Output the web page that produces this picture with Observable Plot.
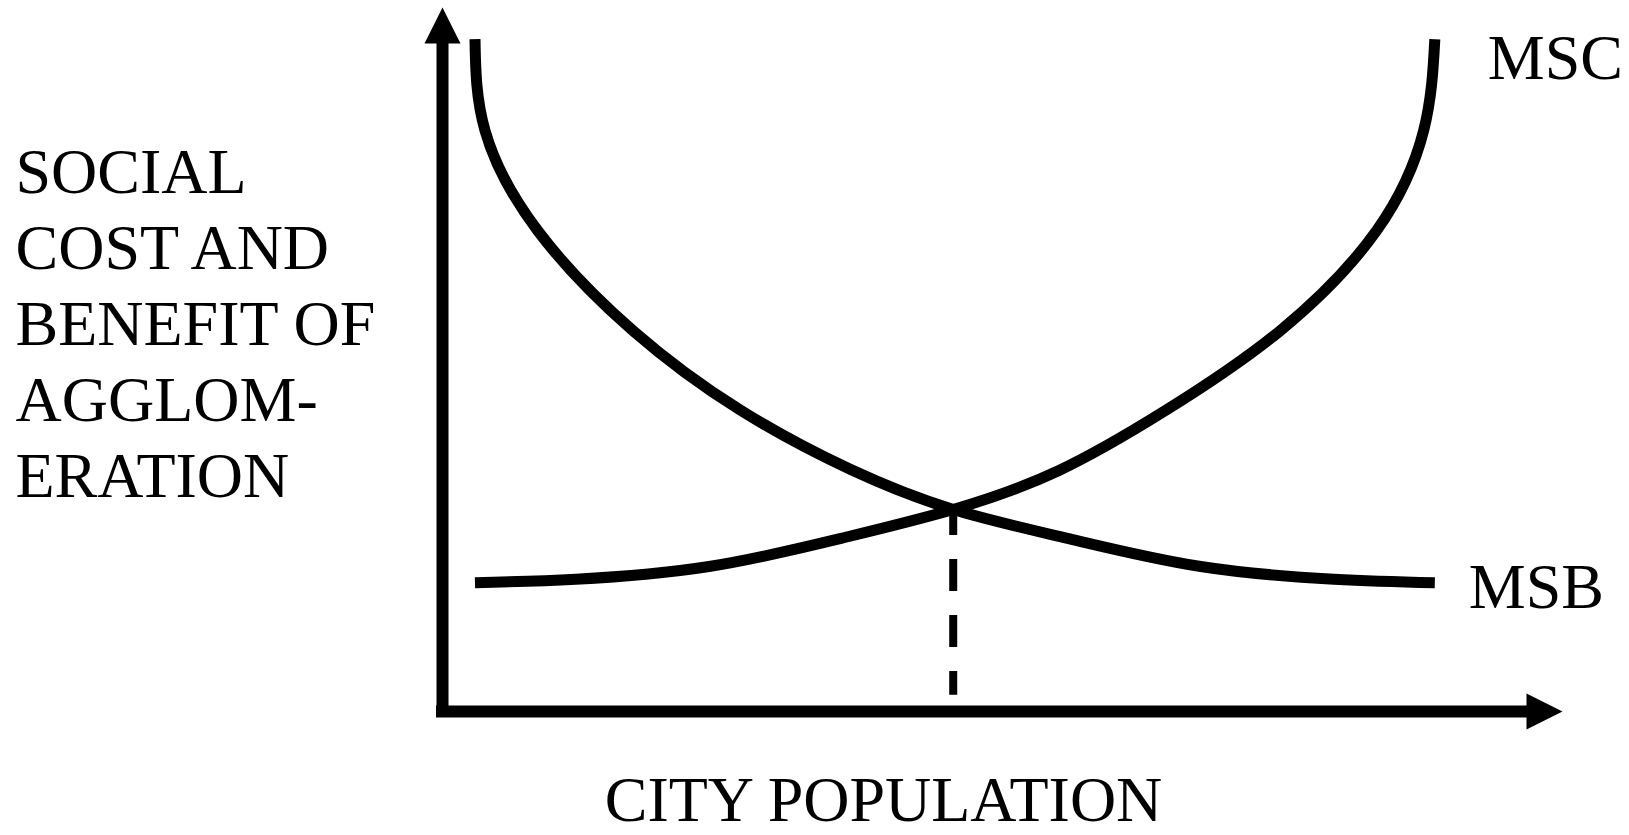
<!DOCTYPE html>
<html>
<head>
<meta charset="utf-8">
<script src="https://cdn.jsdelivr.net/npm/d3@7"></script>
<script src="https://cdn.jsdelivr.net/npm/@observablehq/plot@0.6"></script>
<style>
  html, body { margin: 0; padding: 0; background: #fff; }
  #chart svg { display: block; }
</style>
</head>
<body>
<div id="chart"></div>
<script>
// ---- data (arbitrary units: city population 0–100, social cost/benefit 0–100) ----
const msbX = [2.9, 3.8, 8.5, 17.0, 26.6, 36.4, 45.6, 55.8, 67.7, 79.6, 88.6];
const msbY = [95.5, 82.5, 68.3, 54.1, 42.8, 34.4, 28.7, 24.6, 20.6, 18.8, 18.3];
const mscX = [2.9, 11.9, 23.8, 35.6, 45.6, 55.0, 64.6, 74.8, 83.4, 87.6, 88.6];
const mscY = [18.3, 18.8, 20.6, 24.6, 28.7, 34.2, 42.8, 54.1, 68.3, 82.5, 95.5];
const eqX = 45.6;   // equilibrium city population
const eqY = 28.7;   // MSB = MSC
const curveNames = ["MSB", "MSC"];
const xTitle = "CITY POPULATION";
const yTitle = "SOCIAL\nCOST AND\nBENEFIT OF\nAGGLOM-\nERATION";

const msb = msbX.map((x, i) => ({x, y: msbY[i]}));
const msc = mscX.map((x, i) => ({x, y: mscY[i]}));

const font = "'Liberation Serif', 'Times New Roman', Times, serif";
const fs = 64;

// filled arrowheads (tip at the anchor point)
const arrowUp = { draw(ctx, size) { const r = Math.sqrt(size / Math.PI); ctx.moveTo(0, 0); ctx.lineTo(r, 2 * r); ctx.lineTo(-r, 2 * r); ctx.closePath(); } };
const arrowRight = { draw(ctx, size) { const r = Math.sqrt(size / Math.PI); ctx.moveTo(0, 0); ctx.lineTo(-2 * r, -r); ctx.lineTo(-2 * r, r); ctx.closePath(); } };

const chart = Plot.plot({
  width: 1629,
  height: 835,
  marginLeft: 442,
  marginRight: 67,
  marginTop: 7,
  marginBottom: 124,
  x: {domain: [0, 100], axis: null},
  y: {domain: [0, 100], axis: null},
  style: {background: "white", color: "black", fontFamily: font},
  marks: [
    // axes
    Plot.ruleX([0], {y1: 0, y2: 97, stroke: "black", strokeWidth: 12, strokeLinecap: "square"}),
    Plot.ruleY([0], {x1: 0, x2: 97, stroke: "black", strokeWidth: 12, strokeLinecap: "square"}),
    Plot.dot([{x: 0, y: 100}], {x: "x", y: "y", symbol: arrowUp, r: 18, fill: "black", stroke: null}),
    Plot.dot([{x: 100, y: 0}], {x: "x", y: "y", symbol: arrowRight, r: 18, fill: "black", stroke: null}),
    // equilibrium drop line
    Plot.ruleX([eqX], {y1: eqY, y2: 2.3, stroke: "black", strokeWidth: 8, strokeDasharray: "32,24", strokeDashoffset: 6}),
    // curves
    Plot.line(msb, {x: "x", y: "y", curve: "natural", stroke: "black", strokeWidth: 11, strokeLinecap: "butt", strokeLinejoin: "round"}),
    Plot.line(msc, {x: "x", y: "y", curve: "natural", stroke: "black", strokeWidth: 11, strokeLinecap: "butt", strokeLinejoin: "round"}),
    // curve labels
    Plot.text([msc[msc.length - 1]], {x: "x", y: "y", text: () => curveNames[1], textAnchor: "start", lineAnchor: "middle", dx: 53, dy: 19.5, fontSize: fs, fontFamily: font, fill: "black"}),
    Plot.text([msb[msb.length - 1]], {x: "x", y: "y", text: () => curveNames[0], textAnchor: "start", lineAnchor: "middle", dx: 34, dy: 4.5, fontSize: fs, fontFamily: font, fill: "black"}),
    // axis titles
    Plot.text([yTitle], {frameAnchor: "top-left", textAnchor: "start", lineAnchor: "top", lineHeight: 1.19, dx: -427, dy: 131, fontSize: fs, fontFamily: font, fill: "black"}),
    Plot.text([xTitle], {frameAnchor: "bottom", textAnchor: "middle", lineAnchor: "middle", dx: -119, dy: 89.5, fontSize: fs, fontFamily: font, fill: "black"})
  ]
});
document.getElementById("chart").appendChild(chart);
</script>
</body>
</html>
